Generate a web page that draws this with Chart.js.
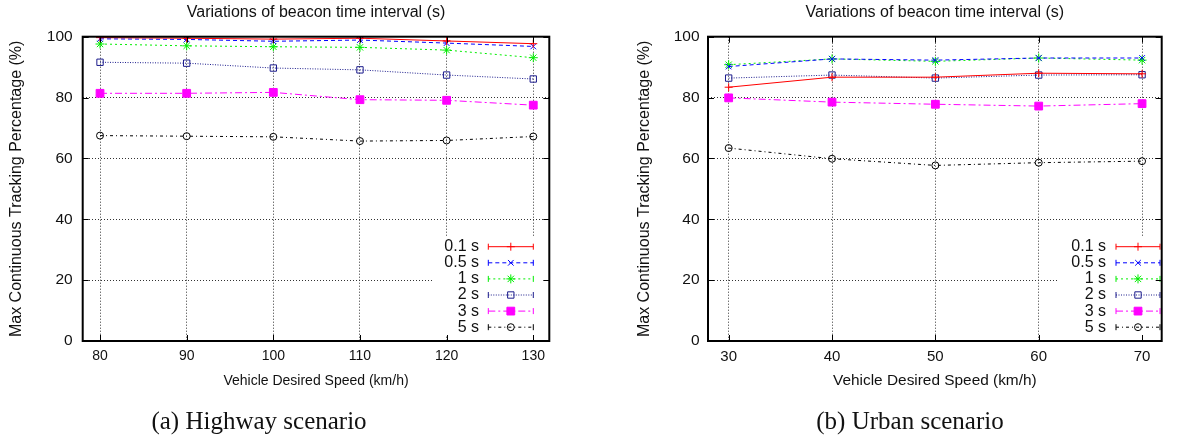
<!DOCTYPE html>
<html>
<head>
<meta charset="utf-8">
<script src="https://cdn.jsdelivr.net/npm/chart.js@4/dist/chart.umd.min.js"></script>
<style>
body { margin: 0; background: #fff; width: 1181px; height: 442px; overflow: hidden; position: relative; }
canvas { position: absolute; top: 0; }
#hw { left: 0; }
#ub { left: 590px; }
</style>
</head>
<body>
<canvas id="hw" width="590" height="442"></canvas>
<canvas id="ub" width="591" height="442"></canvas>
<script>
// dati
const seriesNames = ['0.1 s', '0.5 s', '1 s', '2 s', '3 s', '5 s'];
const yTicks = [0, 20, 40, 60, 80, 100];

// (a) autostrada
const speedHighway = [80, 90, 100, 110, 120, 130];
const hw01 = [99.7, 99.5, 99.2, 99.5, 98.6, 97.7];
const hw05 = [99.3, 99.1, 98.5, 98.9, 97.9, 96.8];
const hw1 = [97.6, 97.0, 96.7, 96.5, 95.6, 93.1];
const hw2 = [91.6, 91.3, 89.7, 89.1, 87.4, 86.1];
const hw3 = [81.4, 81.4, 81.7, 79.3, 79.1, 77.5];
const hw5 = [67.5, 67.3, 67.1, 65.7, 65.9, 67.2];

// (b) urbano
const speedUrban = [30, 40, 50, 60, 70];
const ub01 = [83.4, 86.7, 86.7, 88.0, 87.8];
const ub05 = [90.2, 92.7, 92.3, 93.0, 93.0];
const ub1 = [90.8, 92.7, 91.9, 93.0, 92.3];
const ub2 = [86.4, 87.4, 86.4, 87.4, 87.5];
const ub3 = [79.9, 78.5, 77.8, 77.2, 78.0];
const ub5 = [63.4, 59.9, 57.7, 58.6, 59.1];

// stili delle serie (stile gnuplot)
const styles = [
  { color: '#ff0000', dash: [], point: 'cross', r: 4, fill: false },
  { color: '#0000ff', dash: [4, 3], point: 'crossRot', r: 4, fill: false },
  { color: '#00ee00', dash: [2, 3], point: 'star', r: 4.5, fill: false },
  { color: '#1c1c8c', dash: [1, 1.5], point: 'rect', r: 4.5, fill: false },
  { color: '#ff00ff', dash: [7, 3, 2, 3], point: 'rect', r: 5.5, fill: true },
  { color: '#000000', dash: [3, 3, 1, 3], point: 'circle', r: 3.5, fill: false }
];

const FONT = "'Liberation Sans', Arial, sans-serif";

function drawMarker(ctx, style, x, y, r) {
  ctx.beginPath();
  if (style === 'cross' || style === 'star') {
    ctx.moveTo(x - r, y); ctx.lineTo(x + r, y);
    ctx.moveTo(x, y - r); ctx.lineTo(x, y + r);
  }
  if (style === 'crossRot' || style === 'star') {
    const d = r * 0.7071;
    ctx.moveTo(x - d, y - d); ctx.lineTo(x + d, y + d);
    ctx.moveTo(x - d, y + d); ctx.lineTo(x + d, y - d);
  }
  if (style === 'rect') {
    const s = r * 0.7071;
    ctx.rect(x - s, y - s, 2 * s, 2 * s);
  }
  if (style === 'circle') {
    ctx.arc(x, y, r, 0, Math.PI * 2);
  }
}

// cornice, tacche interne, legenda e didascalia
const gnuFrame = {
  id: 'gnuFrame',
  afterDatasetsDraw(chart, args, opts) {
    const { ctx, chartArea: a, scales: { x, y } } = chart;
    ctx.save();

    // legenda con sfondo bianco
    ctx.fillStyle = '#fff';
    ctx.fillRect(a.right - opts.boxLeft, a.bottom - 104, opts.boxLeft - opts.boxRight, 99);
    ctx.font = '16px ' + FONT;
    ctx.textAlign = 'right';
    ctx.textBaseline = 'middle';
    chart.data.datasets.forEach((ds, i) => {
      const st = styles[i];
      const yy = a.bottom - 94.3 + i * 16.1;
      ctx.fillStyle = '#111';
      ctx.fillText(ds.label, a.right - opts.textRight, yy);
      const x1 = a.right - opts.lineStart, x2 = a.right - opts.lineEnd;
      ctx.strokeStyle = st.color;
      ctx.lineWidth = 1;
      ctx.setLineDash(st.dash);
      ctx.beginPath(); ctx.moveTo(x1, yy); ctx.lineTo(x2, yy); ctx.stroke();
      ctx.setLineDash([]);
      ctx.beginPath();
      ctx.moveTo(x1, yy - 3); ctx.lineTo(x1, yy + 3);
      ctx.moveTo(x2, yy - 3); ctx.lineTo(x2, yy + 3);
      ctx.stroke();
      const mx = (x1 + x2) / 2;
      drawMarker(ctx, st.point, mx, yy, st.r);
      if (st.fill) { ctx.fillStyle = st.color; ctx.fill(); }
      ctx.stroke();
    });

    // tacche interne
    ctx.strokeStyle = '#000';
    ctx.lineWidth = 1;
    ctx.beginPath();
    x.ticks.forEach(t => {
      const px = Math.round(x.getPixelForValue(t.value)) + 0.5;
      ctx.moveTo(px, a.bottom); ctx.lineTo(px, a.bottom - 6);
      ctx.moveTo(px, a.top); ctx.lineTo(px, a.top + 6);
    });
    y.ticks.forEach(t => {
      const py = Math.round(y.getPixelForValue(t.value)) + 0.5;
      ctx.moveTo(a.left, py); ctx.lineTo(a.left + 6, py);
      ctx.moveTo(a.right, py); ctx.lineTo(a.right - 6, py);
    });
    ctx.stroke();

    // cornice
    ctx.lineWidth = 2;
    ctx.strokeRect(a.left, a.top, a.width, a.height);
    ctx.restore();
  },
  afterDraw(chart, args, opts) {
    const ctx = chart.ctx;
    ctx.save();
    ctx.font = "25px 'Liberation Serif', 'DejaVu Serif', serif";
    ctx.fillStyle = '#111';
    ctx.textAlign = 'center';
    ctx.textBaseline = 'alphabetic';
    ctx.fillText(opts.caption, opts.capX, 429);
    ctx.restore();
  }
};

function makeChart(id, xs, series, cfg) {
  const datasets = series.map((vals, i) => {
    const st = styles[i];
    return {
      label: seriesNames[i],
      data: xs.map((v, j) => ({ x: v, y: vals[j] })),
      borderColor: st.color,
      borderWidth: 1,
      borderDash: st.dash,
      pointStyle: st.point,
      pointRadius: st.r,
      pointBorderWidth: 1,
      pointBorderColor: st.color,
      pointBackgroundColor: st.fill ? st.color : 'rgba(0,0,0,0)',
      tension: 0,
      fill: false
    };
  });

  return new Chart(document.getElementById(id).getContext('2d'), {
    type: 'line',
    data: { datasets: datasets },
    plugins: [gnuFrame],
    options: {
      responsive: false,
      animation: false,
      layout: { padding: { left: 0, right: cfg.padRight, top: 0, bottom: 42 } },
      plugins: {
        legend: { display: false },
        tooltip: { enabled: false },
        title: {
          display: true,
          text: 'Variations of beacon time interval (s)',
          fullSize: false,
          color: '#111',
          font: { family: FONT, size: 16, weight: 'normal' },
          padding: { top: 3, bottom: 14.5 }
        },
        gnuFrame: cfg.frame
      },
      scales: {
        x: {
          type: 'linear',
          min: cfg.xMin,
          max: cfg.xMax,
          afterBuildTicks: s => { s.ticks = xs.map(v => ({ value: v })); },
          afterFit: s => { s.height = 59; },
          grid: { color: '#333', lineWidth: 1, drawTicks: false },
          border: { display: false, dash: [1, 2] },
          ticks: { color: '#111', padding: 7, font: { family: FONT, size: cfg.xTickSize } },
          title: {
            display: true,
            text: 'Vehicle Desired Speed (km/h)',
            color: '#111',
            font: { family: FONT, size: cfg.xTitleSize },
            padding: { top: 0, bottom: 10 }
          }
        },
        y: {
          type: 'linear',
          min: 0,
          max: 100,
          afterBuildTicks: s => { s.ticks = yTicks.map(v => ({ value: v })); },
          afterFit: s => { s.width = cfg.yWidth; },
          grid: { color: '#333', lineWidth: 1, drawTicks: false },
          border: { display: false, dash: [1, 2] },
          ticks: { color: '#111', padding: cfg.yPad, font: { family: FONT, size: 15.5 } },
          title: {
            display: true,
            text: 'Max Continuous Tracking Percentage (%)',
            color: '#111',
            font: { family: FONT, size: 16 },
            padding: { top: cfg.yTitleOff, bottom: 0 }
          }
        }
      }
    }
  });
}

makeChart('hw', speedHighway, [hw01, hw05, hw1, hw2, hw3, hw5], {
  xMin: 78, xMax: 131.85, padRight: 40.7, yWidth: 82.7, yPad: 10, yTitleOff: 7,
  xTickSize: 14, xTitleSize: 14,
  frame: { caption: '(a) Highway scenario', capX: 259, boxLeft: 117.3, boxRight: 4,
    textRight: 70.3, lineStart: 61, lineEnd: 16 }
});

makeChart('ub', speedUrban, [ub01, ub05, ub1, ub2, ub3, ub5], {
  xMin: 28, xMax: 71.9, padRight: 19.3, yWidth: 118, yPad: 8.5, yTitleOff: 45.4,
  xTickSize: 15, xTitleSize: 15.4,
  frame: { caption: '(b) Urban scenario', capX: 320, boxLeft: 103.7, boxRight: 0.5,
    textRight: 55.7, lineStart: 45.7, lineEnd: 1.7 }
});
</script>
</body>
</html>
